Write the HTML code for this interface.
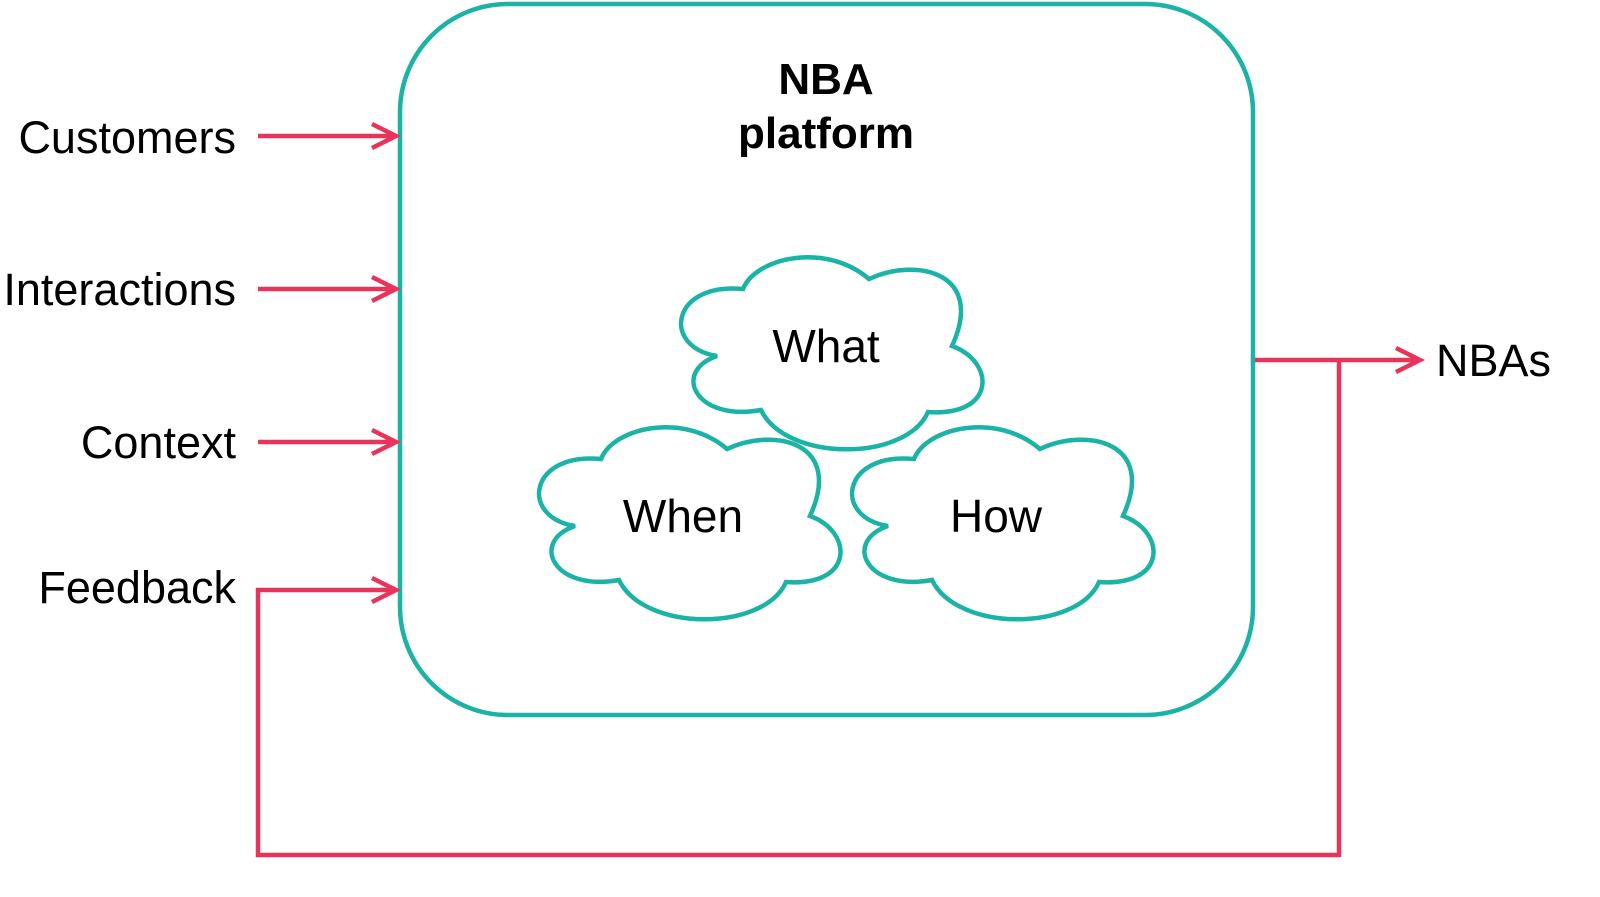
<!DOCTYPE html>
<html><head><meta charset="utf-8"><style>
html,body{margin:0;padding:0;background:#fff;}
svg{display:block;}
text{font-family:"Liberation Sans",sans-serif;fill:#000;}
</style></head><body>
<svg width="1600" height="897" viewBox="0 0 1600 897" xmlns="http://www.w3.org/2000/svg">
<defs>
<path id="cloud" d="M67,37 C80,5 150,-10 193,27 C240,5 310,20 276,94 C320,110 320,165 252,160 C230,210 110,210 85,158 C20,170 -5,120 41,104 C-15,95 -5,30 67,37 Z" fill="#fff" stroke="#1ab3a6" stroke-width="4.5"/>
</defs>
<rect x="400" y="4" width="853" height="711" rx="108" ry="108" fill="none" stroke="#1ab3a6" stroke-width="4.5"/>
<text x="826" y="94" font-size="44" font-weight="bold" text-anchor="middle">NBA</text>
<text x="826" y="148" font-size="44" font-weight="bold" text-anchor="middle">platform</text>
<use href="#cloud" x="676" y="252"/>
<use href="#cloud" x="534" y="422"/>
<use href="#cloud" x="847" y="422"/>
<text x="826" y="362" font-size="46" text-anchor="middle">What</text>
<text x="683" y="532" font-size="46" text-anchor="middle">When</text>
<text x="996" y="532" font-size="46" text-anchor="middle">How</text>
<g font-size="45" text-anchor="end">
<text x="236" y="153">Customers</text>
<text x="236" y="305">Interactions</text>
<text x="236" y="458">Context</text>
<text x="236" y="603">Feedback</text>
</g>
<text x="1436" y="376" font-size="45">NBAs</text>
<g stroke="#e8345a" stroke-width="4.5" fill="none">
<path d="M258,136 H396 M372,124 L396,136 L372,148"/>
<path d="M258,289 H396 M372,277 L396,289 L372,301"/>
<path d="M258,442 H396 M372,430 L396,442 L372,454"/>
<path d="M396,590 H258 V855 H1339 V360"/>
<path d="M372,578 L396,590 L372,602"/>
<path d="M1255,360 H1420 M1396,348 L1420,360 L1396,372"/>
</g>
</svg>
</body></html>
